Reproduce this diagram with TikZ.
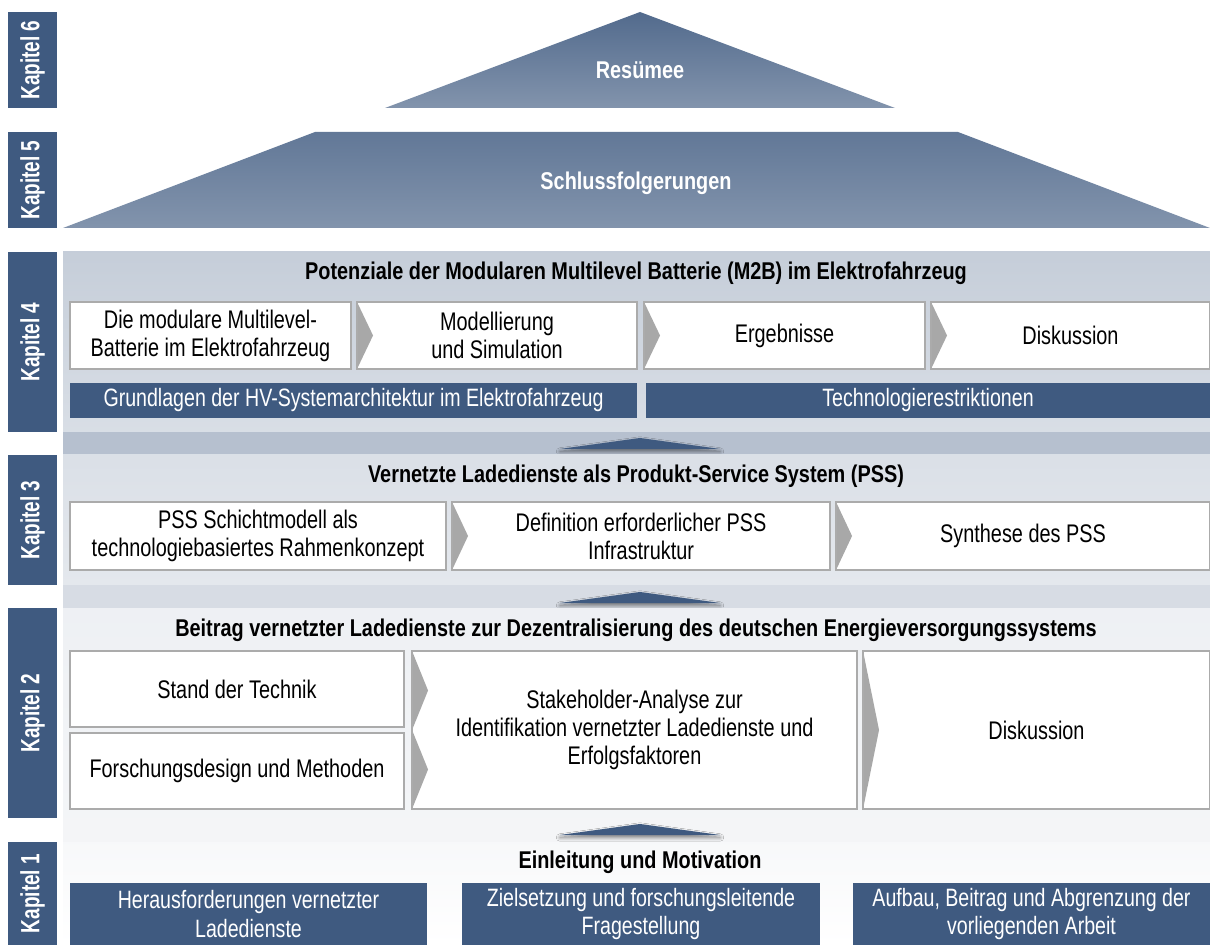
\documentclass[tikz,border=0pt]{standalone}
\usepackage{fontspec}
\setmainfont[FakeStretch=0.78]{Liberation Sans}
\newfontfamily\titlefont[FakeStretch=0.82]{Liberation Sans}
\newfontfamily\kapfont[FakeStretch=0.72]{Liberation Sans}
\usetikzlibrary{calc,shadows.blur}
\definecolor{navy}{HTML}{3F5A80}
\definecolor{notchgray}{HTML}{A8A8A8}
\definecolor{edgegray}{HTML}{ABABAB}

\begin{document}
\begin{tikzpicture}[x=0.02cm, y=-0.02cm,
  kapitel/.style={rectangle, fill=navy, rotate=90, minimum height=0.98cm, minimum width=#1, inner sep=0pt,
    text=white, font=\kapfont\fontsize{15}{17}\selectfont\bfseries},
  wh/.style 2 args={minimum width=#1, minimum height=#2},
  title/.style={font=\titlefont\fontsize{13.8}{16}\selectfont\bfseries, text=black},
  roof/.style={font=\titlefont\fontsize{13.8}{16}\selectfont\bfseries, text=white},
  box/.style={rectangle, draw=edgegray, line width=0.7pt, fill=white, align=center, inner sep=0pt,
    font=\fontsize{14.5}{16}\selectfont},
  bar/.style={rectangle, fill=navy, text=white, align=center, inner sep=0pt, font=\fontsize{14.3}{16}\selectfont},
  notch/.style={path picture={
    \fill[notchgray] (path picture bounding box.north west) -- ([xshift=0.32cm]path picture bounding box.west)
      -- (path picture bounding box.south west) -- cycle;}},
  notchtwo/.style={path picture={
    \fill[notchgray] (path picture bounding box.north west)
      -- ($(path picture bounding box.north west)!.25!(path picture bounding box.south west)+(0.32cm,0)$)
      -- (path picture bounding box.west) -- cycle;
    \fill[notchgray] (path picture bounding box.west)
      -- ($(path picture bounding box.north west)!.75!(path picture bounding box.south west)+(0.32cm,0)$)
      -- (path picture bounding box.south west) -- cycle;}},
  uparrow/.style={fill=navy, blur shadow={shadow xshift=0pt, shadow yshift=-0.5mm, shadow blur steps=6, shadow opacity=50}}
]
  \useasboundingbox (0,0) rectangle (1210,945);

  % chapter tabs
  \node[kapitel=1.92cm] (k6) at (32.5,60) {Kapitel 6};
  \node[kapitel=1.92cm] (k5) at (32.5,180) {Kapitel 5};
  \node[kapitel=3.6cm] (k4) at (32.5,342) {Kapitel 4};
  \node[kapitel=2.6cm] (k3) at (32.5,520) {Kapitel 3};
  \node[kapitel=4.2cm] (k2) at (32.5,713) {Kapitel 2};
  \node[kapitel=2.06cm] (k1) at (32.5,893.5) {Kapitel 1};

  % roof
  \shade[top color=navy!90!white, bottom color=navy!65!white] (385,108) -- (640,12) -- (895,108) -- cycle;
  \node[roof] (res) at (640,70) {Resümee};
  \shade[top color=navy!82!white, bottom color=navy!65!white] (63,228) -- (315,132) -- (958,132) -- (1210,228) -- cycle;
  \node[roof] (schluss) at (636,183) {Schlussfolgerungen};

  % Kapitel 4
  \shade[top color=navy!30!white, bottom color=navy!20!white] (63,252) rectangle (1210,432);
  \fill[navy!38!white] (63,432) rectangle (1210,455);
  \node[title] (t4) at (636,273) {Potenziale der Modularen Multilevel Batterie (M2B) im Elektrofahrzeug};
  \node[box, wh={5.62cm}{1.34cm}] (m1) at (210.5,335.5) {Die modulare Multilevel-\\Batterie im Elektrofahrzeug};
  \node[box, notch, wh={5.6cm}{1.34cm}] (m2) at (497,335.5) {Modellierung\\und Simulation};
  \node[box, notch, wh={5.62cm}{1.34cm}] (m3) at (784.5,335.5) {Ergebnisse};
  \node[box, notch, wh={5.58cm}{1.34cm}] (m4) at (1070.5,335.5) {Diskussion};
  \node[bar, wh={11.34cm}{0.7cm}] (g1) at (353.5,400.5) {Grundlagen der HV-Systemarchitektur im Elektrofahrzeug};
  \node[bar, wh={11.28cm}{0.7cm}] (g2) at (928,400.5) {Technologierestriktionen};
  \fill[uparrow] (560,449) -- (640,438) -- (720,449) -- cycle;

  % Kapitel 3
  \shade[top color=navy!19!white, bottom color=navy!14!white] (63,455) rectangle (1210,585);
  \fill[navy!21!white] (63,585) rectangle (1210,608);
  \node[title] (t3) at (636,476) {Vernetzte Ladedienste als Produkt-Service System (PSS)};
  \node[box, wh={7.52cm}{1.36cm}] (p1) at (258,536) {PSS Schichtmodell als\\technologiebasiertes Rahmenkonzept};
  \node[box, notch, wh={7.56cm}{1.36cm}] (p2) at (641,536) {Definition erforderlicher PSS\\Infrastruktur};
  \node[box, notch, wh={7.48cm}{1.36cm}] (p3) at (1023,536) {Synthese des PSS};
  \fill[uparrow] (560,603) -- (640,592) -- (720,603) -- cycle;

  % Kapitel 2
  \shade[top color=navy!9!white, bottom color=navy!6!white] (63,608) rectangle (1210,818);
  \fill[navy!6!white] (63,818) rectangle (1210,842);
  \node[title] (t2) at (636,630) {Beitrag vernetzter Ladedienste zur Dezentralisierung des deutschen Energieversorgungssystems};
  \node[box, wh={6.68cm}{1.52cm}] (s1) at (237,689) {Stand der Technik};
  \node[box, wh={6.68cm}{1.52cm}] (s2) at (237,771) {Forschungsdesign und Methoden};
  \node[box, notchtwo, wh={8.9cm}{3.16cm}] (s3) at (634.5,730) {Stakeholder-Analyse zur\\Identifikation vernetzter Ladedienste und\\Erfolgsfaktoren};
  \node[box, notch, wh={6.94cm}{3.16cm}] (s4) at (1036.5,730) {Diskussion};
  \fill[uparrow] (560,835) -- (640,824) -- (720,835) -- cycle;

  % Kapitel 1
  \shade[top color=navy!4!white, bottom color=white] (63,842) rectangle (1210,945);
  \node[title] (t1) at (640,862) {Einleitung und Motivation};
  \node[bar, wh={7.14cm}{1.24cm}] (e1) at (248.5,914) {Herausforderungen vernetzter\\Ladedienste};
  \node[bar, wh={7.16cm}{1.24cm}] (e2) at (641,914) {Zielsetzung und forschungsleitende\\Fragestellung};
  \node[bar, wh={7.14cm}{1.24cm}] (e3) at (1031.5,914) {Aufbau, Beitrag und Abgrenzung der\\vorliegenden Arbeit};
\end{tikzpicture}
\end{document}
